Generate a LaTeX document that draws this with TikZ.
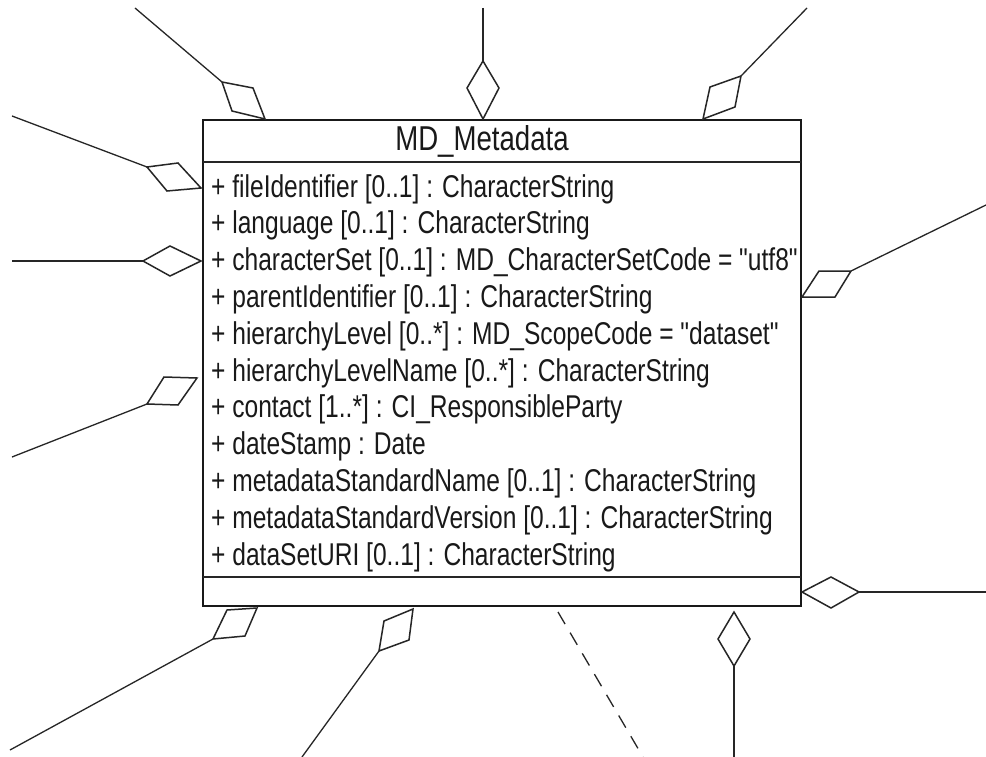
\documentclass[tikz,border=0pt]{standalone}
\usepackage{fontspec}
\setmainfont{Liberation Sans}[FakeStretch=0.78,Ligatures=TeXOff]
\newfontfamily\titlefont{Liberation Sans}[FakeStretch=0.80,Ligatures=TeXOff]
\begin{document}
\begin{tikzpicture}[x=1pt,y=-1pt,
  conn/.style={line width=1.3pt,draw=black!85},
  dia/.style={line width=1.5pt,draw=black!85,fill=white,line join=miter},
  attr/.style={anchor=base west,inner sep=0pt,font=\fontsize{31.5}{36}\selectfont,text=black!90},
  sep/.style={line width=1.6pt,draw=black!85}]
\useasboundingbox (0,0) rectangle (986,757);
\fill[white] (0,0) rectangle (986,757);
% class box
\node[draw=black!90,line width=2.4pt,minimum width=598pt,minimum height=486pt,inner sep=0pt] (md) at (502,363) {};
\node[anchor=base,inner sep=0pt,font=\titlefont\fontsize{34.5}{40}\selectfont,text=black!90] (title) at (482,151) {MD\_Metadata};
\coordinate (s1l) at (203,162); \coordinate (s1r) at (801,162);
\coordinate (s2l) at (203,577); \coordinate (s2r) at (801,577);
\draw[sep] (s1l) -- (s1r);
\draw[sep] (s2l) -- (s2r);
% attributes
\node[attr] (a1) at (211,197.0) {+ fileIdentifier [0..1] : CharacterString};
\node[attr] (a2) at (211,233.8) {+ language [0..1] : CharacterString};
\node[attr] (a3) at (211,270.6) {+ characterSet [0..1] : MD\_CharacterSetCode = "utf8"};
\node[attr] (a4) at (211,307.4) {+ parentIdentifier [0..1] : CharacterString};
\node[attr] (a5) at (211,344.2) {+ hierarchyLevel [0..*] : MD\_ScopeCode = "dataset"};
\node[attr] (a6) at (211,381.0) {+ hierarchyLevelName [0..*] : CharacterString};
\node[attr] (a7) at (211,417.8) {+ contact [1..*] : CI\_ResponsibleParty};
\node[attr] (a8) at (211,454.6) {+ dateStamp : Date};
\node[attr] (a9) at (211,491.4) {+ metadataStandardName [0..1] : CharacterString};
\node[attr] (a10) at (211,528.2) {+ metadataStandardVersion [0..1] : CharacterString};
\node[attr] (a11) at (211,565.0) {+ dataSetURI [0..1] : CharacterString};
% diamonds (near tip, side, far tip, side) and connector ends
\coordinate (e1) at (135,8);   \coordinate (f1) at (222,82);
\draw[conn] (e1) -- (f1);
\draw[dia] (265,119) -- (253,88) -- (f1) -- (232,111) -- cycle;
\coordinate (e2) at (483,8);   \coordinate (f2) at (483,61);
\draw[conn] (e2) -- (f2);
\draw[dia] (483,119) -- (467,88) -- (f2) -- (499,88) -- cycle;
\coordinate (e3) at (807,8);   \coordinate (f3) at (741,76);
\draw[conn] (e3) -- (f3);
\draw[dia] (703,119) -- (710,87) -- (f3) -- (735,107) -- cycle;
\coordinate (e4) at (12,116);  \coordinate (f4) at (147,167);
\draw[conn] (e4) -- (f4);
\draw[dia] (201,188) -- (178,163) -- (f4) -- (167,191) -- cycle;
\coordinate (e5) at (12,261);  \coordinate (f5) at (143,261);
\draw[conn] (e5) -- (f5);
\draw[dia] (201,261) -- (170,246) -- (f5) -- (170,276) -- cycle;
\coordinate (e6) at (12,457);  \coordinate (f6) at (147,404);
\draw[conn] (e6) -- (f6);
\draw[dia] (197,378) -- (164,377) -- (f6) -- (178,405) -- cycle;
\coordinate (e7) at (986,205); \coordinate (f7) at (851,271);
\draw[conn] (e7) -- (f7);
\draw[dia] (802,297) -- (819,271) -- (f7) -- (835,297) -- cycle;
\coordinate (e8) at (10,750);  \coordinate (f8) at (213,639);
\draw[conn] (e8) -- (f8);
\draw[dia] (257,608) -- (227,610) -- (f8) -- (245,636) -- cycle;
\coordinate (e9) at (302,757); \coordinate (f9) at (379,651);
\draw[conn] (e9) -- (f9);
\draw[dia] (413,609) -- (384,621) -- (f9) -- (409,640) -- cycle;
\coordinate (d1) at (558,612); \coordinate (d2) at (643,757);
\draw[conn,dash pattern=on 14pt off 10pt] (d1) -- (d2);
\coordinate (e11) at (734,757); \coordinate (f11) at (734,666);
\draw[conn] (e11) -- (f11);
\draw[dia] (734,612) -- (718,639) -- (f11) -- (750,639) -- cycle;
\coordinate (e12) at (986,592); \coordinate (f12) at (859,592);
\draw[conn] (e12) -- (f12);
\draw[dia] (802,592) -- (831,577) -- (f12) -- (831,608) -- cycle;
\end{tikzpicture}
\end{document}
